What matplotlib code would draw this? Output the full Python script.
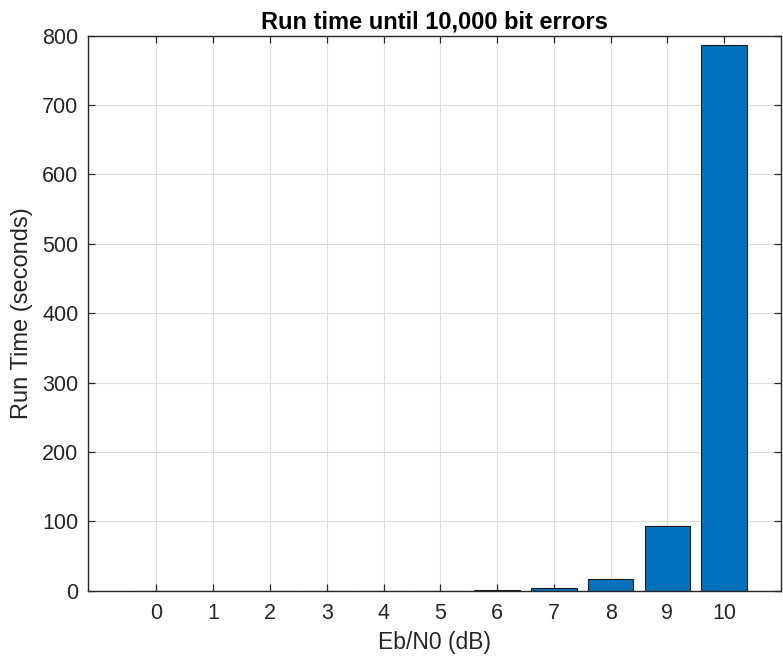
import matplotlib
matplotlib.use("Agg")
import matplotlib.pyplot as plt

# Simulation run time per Eb/N0 point
ebn0_db = [0, 1, 2, 3, 4, 5, 6, 7, 8, 9, 10]
run_time_s = [0.01, 0.01, 0.01, 0.02, 0.03, 0.08, 1.2, 3.8, 17.3, 93.2, 787.0]
y_ticks = [0, 100, 200, 300, 400, 500, 600, 700, 800]

plt.rcParams['font.family'] = ['Liberation Sans', 'DejaVu Sans']
axis_col = '#262626'

fig = plt.figure(figsize=(7.83, 6.61), dpi=100)
ax = fig.add_axes([0.1128, 0.1064, 0.8846, 0.8396])

ax.bar(ebn0_db, run_time_s, width=0.8, color='#0072BD', edgecolor='#1a1a1a',
       linewidth=0.8, zorder=3)

ax.set_xlim(-1.2, 11)
ax.set_ylim(0, 800)
ax.set_xticks(ebn0_db)
ax.set_yticks(y_ticks)

ax.grid(True, color='#dedede', linewidth=0.8, zorder=0)
ax.set_axisbelow(True)

for s in ax.spines.values():
    s.set_color(axis_col)
    s.set_linewidth(1.0)
    s.set_zorder(5)

ax.tick_params(axis='both', direction='in', length=5, width=0.9, color=axis_col,
               labelcolor=axis_col, labelsize=15.5, top=True, right=True)
ax.tick_params(axis='y', pad=7)
ax.tick_params(axis='x', pad=9)

ax.set_title('Run time until 10,000 bit errors', fontsize=17, fontweight='bold',
             color='black', pad=5.5)
ax.set_xlabel('Eb/N0 (dB)', fontsize=16.5, color=axis_col, labelpad=5)
ax.set_ylabel('Run Time (seconds)', fontsize=17, color=axis_col, labelpad=7)

fig.savefig('out.png', dpi=100)
